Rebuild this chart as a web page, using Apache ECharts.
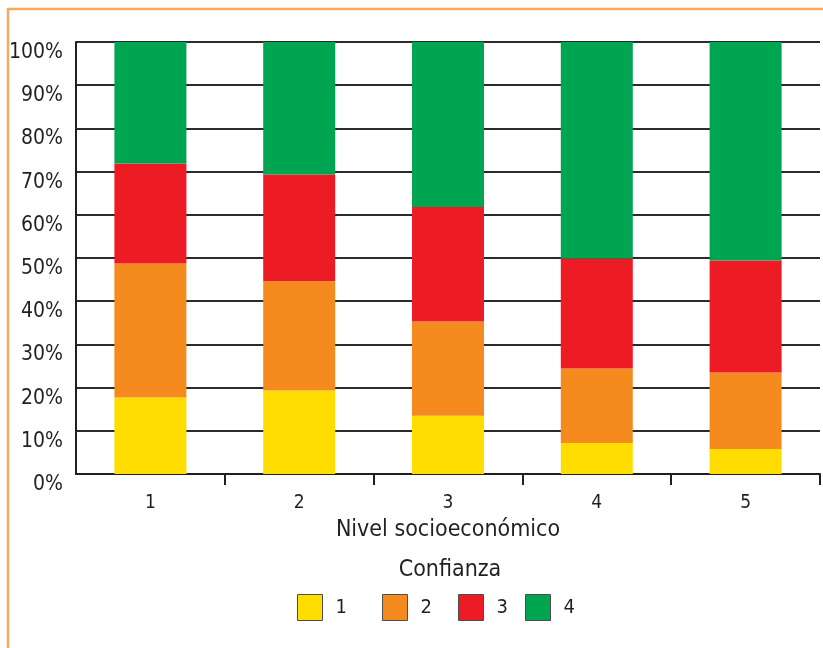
<!DOCTYPE html>
<html>
<head>
<meta charset="utf-8">
<script src="https://cdn.jsdelivr.net/npm/echarts@6/dist/echarts.min.js"></script>
<style>
  html, body { margin: 0; padding: 0; background: #fff; }
  #chart { width: 823px; height: 648px; }
</style>
</head>
<body>
<div id="chart"></div>
<script>
// Socioeconomic level categories
const categories = ['1', '2', '3', '4', '5'];
// Share (%) of each "Confianza" level per socioeconomic level
const confianza1 = [17.7, 19.3, 13.5, 7.2, 5.8];
const confianza2 = [31.0, 25.3, 21.8, 17.2, 17.7];
const confianza3 = [23.2, 24.7, 26.5, 25.5, 25.9];
const confianza4 = [28.1, 30.7, 38.2, 50.1, 50.6];
const seriesNames = ['1', '2', '3', '4'];
const seriesColors = ['#FFDD00', '#F58B1F', '#ED1C24', '#00A551'];

const FONT = '"Liberation Sans Narrow", "DejaVu Sans Condensed", sans-serif';
const values = [confianza1, confianza2, confianza3, confianza4];

const legendLeft = [297, 382, 458, 525];

const chart = echarts.init(document.getElementById('chart'), null, { renderer: 'canvas' });

chart.setOption({
  backgroundColor: '#ffffff',
  animation: false,
  textStyle: { fontFamily: FONT },
  title: {
    text: 'Confianza',
    left: 445,
    top: 554,
    textAlign: 'center',
    textStyle: { fontFamily: FONT, fontSize: 23, fontWeight: 'normal', color: '#231F20' }
  },
  legend: seriesNames.map((n, i) => ({
    data: [n],
    left: legendLeft[i],
    top: 594,
    itemWidth: 25,
    itemHeight: 26,
    itemGap: 0,
    padding: 0,
    icon: 'rect',
    selectedMode: false,
    itemStyle: { borderColor: '#4d4d4d', borderWidth: 1 },
    textStyle: { fontFamily: FONT, fontSize: 20, color: '#231F20', padding: [0, 0, 0, 8] }
  })),
  grid: { left: 76, right: 3, top: 42, bottom: 174, containLabel: false },
  xAxis: {
    type: 'category',
    data: categories,
    name: 'Nivel socioeconómico',
    nameLocation: 'middle',
    nameGap: 45,
    nameTextStyle: { fontFamily: FONT, fontSize: 23, color: '#231F20' },
    axisLine: { lineStyle: { color: '#231F20', width: 2 } },
    axisTick: {
      show: true,
      length: 11,
      interval: (idx) => idx !== 0,
      lineStyle: { color: '#231F20', width: 2 }
    },
    axisLabel: { fontFamily: FONT, fontSize: 19, color: '#231F20', margin: 20 },
    splitLine: { show: false }
  },
  yAxis: {
    type: 'value',
    min: 0,
    max: 100,
    interval: 10,
    axisLine: { show: true, lineStyle: { color: '#231F20', width: 2 } },
    axisTick: { show: false },
    axisLabel: {
      formatter: '{value}%',
      fontFamily: FONT,
      fontSize: 21,
      color: '#231F20',
      margin: 13,
      verticalAlign: 'top'
    },
    splitLine: { show: true, lineStyle: { color: '#2b2b2b', width: 2 } }
  },
  series: seriesNames.map((n, i) => ({
    name: n,
    type: 'bar',
    stack: 'total',
    barWidth: 72,
    data: values[i],
    itemStyle: { color: seriesColors[i] },
    emphasis: { disabled: true }
  })),
  graphic: [
    { type: 'line', shape: { x1: 7, y1: 9, x2: 823, y2: 9 }, style: { stroke: '#F7AA5E', lineWidth: 2.5 }, z: 100 },
    { type: 'line', shape: { x1: 8, y1: 8, x2: 8, y2: 648 }, style: { stroke: '#F7AA5E', lineWidth: 2.5 }, z: 100 }
  ]
});
</script>
</body>
</html>
